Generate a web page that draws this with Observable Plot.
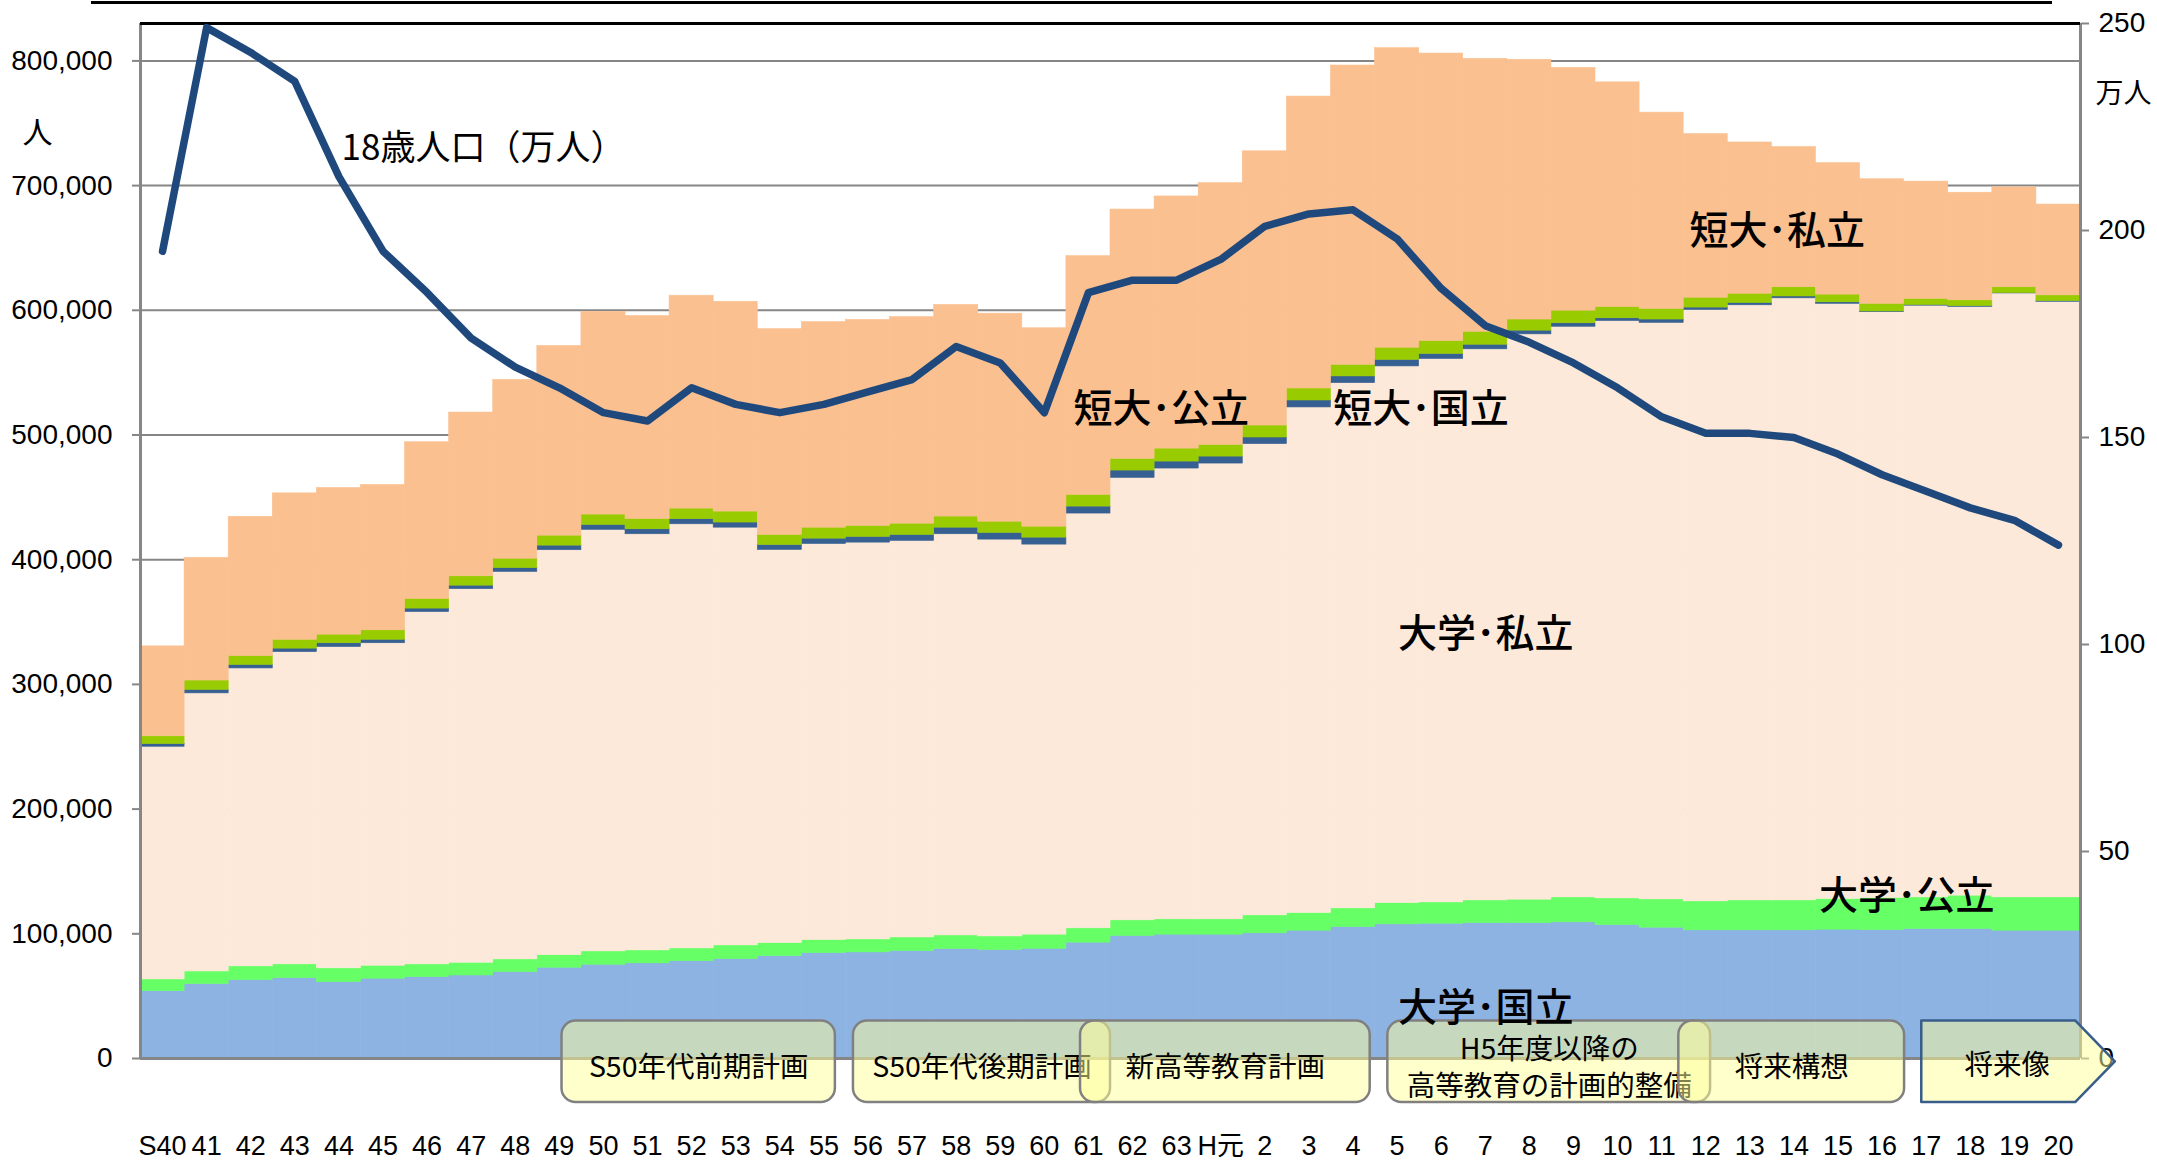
<!DOCTYPE html>
<html><head><meta charset="utf-8">
<script src="https://cdn.jsdelivr.net/npm/d3@7"></script>
<script src="https://cdn.jsdelivr.net/npm/@observablehq/plot@0.6"></script>
<style>
html,body{margin:0;padding:0;background:#fff;}
#wrap{position:relative;width:2157px;height:1160px;overflow:hidden;background:#fff;}
#topline{position:absolute;left:91px;top:1px;width:1961px;height:3px;background:#000;}
</style></head>
<body><div id="wrap"><div id="chart"></div><div id="topline"></div></div>
<script>
// ---- data ----
const years = ["S40","41","42","43","44","45","46","47","48","49","50","51","52","53","54","55","56","57","58","59","60","61","62","63","H元","2","3","4","5","6","7","8","9","10","11","12","13","14","15","16","17","18","19","20"];
const daigakuKokuritsu = [54000,59700,62900,64500,61300,64000,65300,66600,69300,72800,75200,76300,78100,79700,82100,84500,85100,86200,87800,87000,88000,92900,98300,99300,99300,100400,102500,105400,107600,108100,108600,108600,109200,107000,104900,102800,102800,102800,103300,103000,103800,103800,102500,102500];
const daigakuKoritsu = [9400,10100,11000,11000,11000,10400,10200,10200,10200,10100,10700,10400,10200,11000,10500,10500,10400,10900,10900,10900,11300,11500,12500,12300,12300,14400,14200,15000,17100,17100,18200,18800,20000,21400,22700,23200,24000,24000,24600,25700,25400,26800,26700,26700];
const daigakuShiritsu = [186600,223000,238900,250400,257700,258600,282500,299600,310700,324700,338000,333700,340100,335000,315200,317600,318200,318000,321700,318200,312800,332600,354800,361500,365500,377900,405400,421200,430300,435800,441900,453300,457600,463000,462300,474300,477200,482800,477300,469800,474500,472100,484300,477600];
const tandaiKokuritsu = [2200,2800,2800,2800,3000,2800,2800,2800,3100,3700,4000,4000,4100,4100,4000,4300,4600,4800,5300,5400,5600,5600,5900,5600,5600,5300,5600,5400,5200,4000,3700,3000,2800,2200,2700,1900,1900,1500,1200,600,600,700,300,600];
const tandaiKoritsu = [6200,7500,7100,7100,6900,7600,7800,7500,7500,8000,8300,8300,8500,8800,8100,8800,8800,9000,8900,9000,8800,9400,9400,10400,9400,9600,9600,9300,9800,10400,10400,8900,10100,9100,8600,7900,7400,7400,6200,6100,4900,4600,4700,4600];
const tandaiShiritsu = [72100,98400,111700,117400,117600,116500,125600,131300,143400,152100,162600,162700,170700,168200,165000,164800,165200,165600,169700,166800,159100,191400,199900,202200,209900,219900,234100,240000,240200,230500,218800,208300,194700,180100,157300,131200,121300,112400,105400,99900,94000,86300,80100,72800];
const pop18 = [195,249,243,236,213,195,185,174,167,162,156,154,162,158,156,158,161,164,172,168,156,185,188,188,193,201,204,205,198,186,177,173,168,162,155,151,151,150,146,141,137,133,130,124];

const seriesNames = ["大学・国立","大学・公立","大学・私立","短大・国立","短大・公立","短大・私立"];
const seriesColors = ["#8DB3E2","#66FF66","#FDE9D9","#366092","#99CC00","#FAC090"];
const seriesValues = [daigakuKokuritsu, daigakuKoritsu, daigakuShiritsu, tandaiKokuritsu, tandaiKoritsu, tandaiShiritsu];

const leftTicks = [0,100000,200000,300000,400000,500000,600000,700000,800000];
const rightTicks = [0,50,100,150,200,250];

// series label annotations (bar-index position, value)
const labelText = ["短大･公立","短大･国立","短大･私立","大学･私立","大学･公立","大学･国立"];
const labelX = [23.15, 29.04, 37.12, 30.51, 40.06, 30.51];
const labelY = [520800, 520800, 663200, 339700, 130300, 40100];
const popLabel = "18歳人口（万人）";
const popLabelX = 4.56, popLabelY = 729300;

// planning periods shown along the bottom
const planNames = ["S50年代前期計画","S50年代後期計画","新高等教育計画","H5年度以降の\n高等教育の計画的整備","将来構想"];
const planStart = [9.56, 16.17, 21.32, 28.29, 34.89];
const planEnd = [15.76, 22.0, 27.89, 35.61, 40.01];
const futureName = "将来像";
const futureStart = 40.40, futureEnd = 43.89, futureTip = 44.79;

// ---- build ----
const YMAX = 830000;
const POP_SCALE = YMAX / 250;
const N = years.length;

const rows = [];
seriesNames.forEach((s, k) => seriesValues[k].forEach((v, i) => rows.push({i, series: s, value: v})));
const popRows = pop18.map((v, i) => ({i, v}));

const BOX_TOP = 30100, BOX_BOTTOM = -35300, BOX_MID = -2700, BOX_TEXT = -5600;
const JP = "'Noto Sans CJK JP', 'Noto Sans', sans-serif";
const NUM = "'Liberation Sans', Arial, 'Noto Sans CJK JP', sans-serif";

const marks = [
  Plot.ruleY(leftTicks.filter(d => d > 0), {stroke: "#868686", strokeWidth: 2}),
  Plot.rectY(rows, {x1: "i", x2: d => d.i + 1, y: "value", fill: "series", stroke: "series", strokeWidth: 0.6}),
  Plot.ruleX([0], {stroke: "#868686", strokeWidth: 3}),
  Plot.ruleX([N], {stroke: "#868686", strokeWidth: 3}),
  Plot.ruleY([0], {stroke: "#868686", strokeWidth: 3}),
  Plot.ruleY([YMAX], {stroke: "#000", strokeWidth: 3}),
  Plot.line(popRows, {x: d => d.i + 0.5, y: d => d.v * POP_SCALE, stroke: "#1F497D", strokeWidth: 7.5, strokeLinejoin: "round", strokeLinecap: "round"}),
  Plot.text([popLabel], {x: () => popLabelX, y: () => popLabelY, text: d => d, textAnchor: "start", fontSize: 35, fontFamily: JP, fill: "#000"}),
  Plot.text(["人"], {frameAnchor: "top-left", dx: -103, dy: 110, textAnchor: "middle", lineAnchor: "middle", text: d => d, fontSize: 30, fontFamily: JP, fill: "#000"}),
  Plot.text(["万人"], {frameAnchor: "top-right", dx: 43, dy: 71, textAnchor: "middle", lineAnchor: "middle", text: d => d, fontSize: 28, fontFamily: JP, fill: "#000"}),
  Plot.axisY({anchor: "left", ticks: leftTicks, tickFormat: d3.format(","), tickSize: 8, tickPadding: 20, stroke: "#868686", strokeWidth: 2, fill: "#000", fontSize: 28, fontFamily: NUM, label: null}),
  Plot.axisY({anchor: "right", ticks: rightTicks.map(v => v * POP_SCALE), tickFormat: v => String(Math.round(v / POP_SCALE)), tickSize: 8, tickPadding: 10, stroke: "#868686", strokeWidth: 2, fill: "#000", fontSize: 28, fontFamily: NUM, label: null}),
  Plot.axisX({ticks: years.map((_, i) => i + 0.5), tickFormat: v => years[Math.round(v - 0.5)], tickSize: 0, tickPadding: 77, fill: "#000", fontSize: 27, fontFamily: NUM, label: null})
];

planNames.forEach((name, k) => {
  marks.push(Plot.rect([k], {x1: () => planStart[k], x2: () => planEnd[k], y1: () => BOX_BOTTOM, y2: () => BOX_TOP, rx: 14, fill: "#FFFF99", fillOpacity: 0.5, stroke: "#808080", strokeWidth: 2.5}));
  marks.push(Plot.text([name], {x: () => (planStart[k] + planEnd[k]) / 2, y: () => BOX_TEXT, text: d => d, fontSize: 28.5, lineHeight: 1.3, fontFamily: JP, fill: "#000"}));
});
const arrowPts = [
  {x: futureStart, lo: BOX_BOTTOM, hi: BOX_TOP},
  {x: futureEnd, lo: BOX_BOTTOM, hi: BOX_TOP},
  {x: futureTip, lo: BOX_MID, hi: BOX_MID}
];
marks.push(Plot.area(arrowPts, {x1: "x", y1: "lo", y2: "hi", fill: "#FFFF99", fillOpacity: 0.5, stroke: "#385D8A", strokeWidth: 2.5}));
marks.push(Plot.text([futureName], {x: () => 42.34, y: () => BOX_TEXT, text: d => d, fontSize: 28.5, fontFamily: JP, fill: "#000"}));
marks.push(Plot.text(labelText.map((t, k) => ({t, x: labelX[k], y: labelY[k]})), {x: "x", y: "y", text: "t", fontSize: 39, fontWeight: 500, fontFamily: JP, fill: "#000"}));

const chart = Plot.plot({
  width: 2157,
  height: 1160,
  marginLeft: 140,
  marginRight: 77,
  marginTop: 23,
  marginBottom: 102,
  style: {background: "#fff", color: "#000", fontFamily: JP, overflow: "visible"},
  x: {type: "linear", domain: [0, N]},
  y: {type: "linear", domain: [0, YMAX]},
  color: {domain: seriesNames, range: seriesColors},
  marks
});
document.getElementById("chart").appendChild(chart);
</script>
</body></html>
